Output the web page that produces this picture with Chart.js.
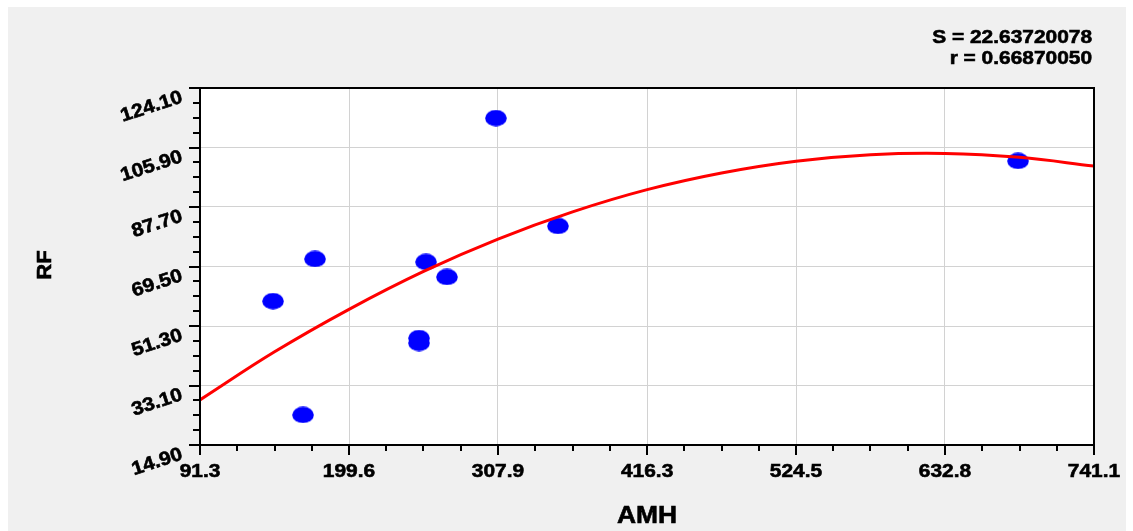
<!DOCTYPE html>
<html lang="fr">
<head>
<meta charset="utf-8">
<title>RF vs AMH</title>
<script src="https://cdn.jsdelivr.net/npm/chart.js@4.4.1/dist/chart.umd.min.js"></script>
<style>
    html, body { margin: 0; padding: 0; background: #ffffff; }
    #wrap { width: 1133px; height: 531px; }
</style>
</head>
<body>
<div id="wrap"><canvas id="rf-chart" width="1133" height="531"></canvas></div>
<script>
// ======== 1. DONNÉES ========
const amhValues = [144.4, 166.2, 174.9, 250.5, 250.5, 255.6, 270.8, 306.4, 351.5, 685.9];
const rfValues = [58.9, 24.1, 71.8, 47.6, 46.1, 70.9, 66.3, 114.9, 81.9, 101.8];

// courbe d'ajustement
const curveX = [91.3, 145.5, 199.6, 253.8, 307.9, 362.1, 416.3, 470.4, 524.5, 578.7, 632.8, 687.0, 741.1];
const curveY = [28.7, 43.4, 56.4, 68.0, 77.9, 86.2, 93.0, 98.1, 101.7, 103.7, 104.1, 102.9, 100.2];

const xTicks = [91.3, 199.6, 307.9, 416.3, 524.5, 632.8, 741.1];
const xTickLabels = ['91.3', '199.6', '307.9', '416.3', '524.5', '632.8', '741.1'];
const yTicks = [14.9, 33.1, 51.3, 69.5, 87.7, 105.9, 124.1];
const yTickLabels = ['14.90', '33.10', '51.30', '69.50', '87.70', '105.90', '124.10'];

const statLines = ['S = 22.63720078', 'r = 0.66870050'];
const xTitle = 'AMH';
const yTitle = 'RF';

// ======== 2. OUTILS DE DESSIN ========
const FONT = '"Liberation Sans", Arial, sans-serif';
const STRETCH = 1.1; // le texte de l'original est un peu étiré

function drawText(ctx, str, x, y, size, align, baseline, angle) {
    ctx.save();
    ctx.translate(x, y);
    if (angle) ctx.rotate(angle);
    ctx.scale(STRETCH, 1);
    ctx.font = 'bold ' + size + 'px ' + FONT;
    ctx.fillStyle = '#000000';
    ctx.strokeStyle = '#000000';
    ctx.lineWidth = 0.6; // un peu plus gras, comme l'original
    ctx.textAlign = align;
    ctx.textBaseline = baseline;
    ctx.fillText(str, 0, 0);
    ctx.strokeText(str, 0, 0);
    ctx.restore();
}

// point en forme d'ellipse (l'image est étirée en largeur)
const dot = document.createElement('canvas');
dot.width = 22;
dot.height = 17;
const dctx = dot.getContext('2d');
dctx.fillStyle = '#0000ff';
dctx.beginPath();
dctx.ellipse(11, 8.5, 10.8, 8.3, 0, 0, Math.PI * 2);
dctx.fill();

// ======== 3. PLUGIN : FOND, CADRE, GRADUATIONS, TEXTES ========
const decorPlugin = {
    id: 'decor',
    beforeDraw(chart) {
        const ctx = chart.ctx;
        const a = chart.chartArea;
        ctx.save();
        ctx.fillStyle = '#ffffff';
        ctx.fillRect(0, 0, chart.width, chart.height);
        ctx.fillStyle = '#f0f0f0';
        ctx.fillRect(8, 7, 1118, chart.height - 7);
        ctx.fillStyle = '#ffffff';
        ctx.fillRect(a.left, a.top, a.right - a.left, a.bottom - a.top);
        ctx.restore();
    },
    afterDraw(chart) {
        const ctx = chart.ctx;
        const a = chart.chartArea;
        const xs = chart.scales.x;
        const ys = chart.scales.y;

        ctx.save();
        ctx.strokeStyle = '#000000';
        ctx.lineWidth = 2;

        // graduations de l'axe X (majeures + 3 mineures)
        ctx.beginPath();
        xTicks.forEach((v, i) => {
            const px = Math.round(xs.getPixelForValue(v));
            ctx.moveTo(px, a.bottom);
            ctx.lineTo(px, a.bottom + 10);
            if (i < xTicks.length - 1) {
                const step = (xTicks[i + 1] - v) / 4;
                for (let k = 1; k < 4; k++) {
                    const mx = Math.round(xs.getPixelForValue(v + step * k));
                    ctx.moveTo(mx, a.bottom);
                    ctx.lineTo(mx, a.bottom + 6);
                }
            }
        });
        // graduations de l'axe Y
        yTicks.forEach((v, i) => {
            const py = Math.round(ys.getPixelForValue(v));
            ctx.moveTo(a.left, py);
            ctx.lineTo(a.left - 11, py);
            if (i < yTicks.length - 1) {
                const step = (yTicks[i + 1] - v) / 4;
                for (let k = 1; k < 4; k++) {
                    const my = Math.round(ys.getPixelForValue(v + step * k));
                    ctx.moveTo(a.left, my);
                    ctx.lineTo(a.left - 7, my);
                }
            }
        });
        ctx.stroke();

        // cadre du graphique
        ctx.strokeRect(a.left, a.top, a.right - a.left, a.bottom - a.top);
        ctx.restore();

        // étiquettes des axes
        xTicks.forEach((v, i) => {
            drawText(ctx, xTickLabels[i], xs.getPixelForValue(v), 477, 19, 'center', 'alphabetic', 0);
        });
        yTicks.forEach((v, i) => {
            drawText(ctx, yTickLabels[i], 182, ys.getPixelForValue(v) + 9, 19, 'right', 'middle', -18 * Math.PI / 180);
        });

        // titres
        drawText(ctx, xTitle, (a.left + a.right) / 2, 523, 24, 'center', 'alphabetic', 0);
        drawText(ctx, yTitle, 45, 265, 20, 'center', 'middle', -Math.PI / 2);

        // statistiques en haut à droite
        drawText(ctx, statLines[0], 1092, 43, 19, 'right', 'alphabetic', 0);
        drawText(ctx, statLines[1], 1092, 64, 19, 'right', 'alphabetic', 0);
    }
};

// ======== 4. GRAPHIQUE ========
const points = amhValues.map((x, i) => ({ x: x, y: rfValues[i] }));
const curve = curveX.map((x, i) => ({ x: x, y: curveY[i] }));

new Chart(document.getElementById('rf-chart'), {
    type: 'scatter',
    data: {
        datasets: [
            {
                label: 'Ajustement',
                type: 'line',
                data: curve,
                borderColor: '#ff0000',
                borderWidth: 3,
                pointRadius: 0,
                tension: 0.4,
                fill: false,
                order: 0
            },
            {
                label: 'RF',
                data: points,
                pointStyle: dot,
                pointRadius: 10,
                pointHoverRadius: 10,
                order: 1
            }
        ]
    },
    options: {
        responsive: false,
        animation: false,
        devicePixelRatio: 1,
        layout: { padding: { left: 0, top: 88, right: 39, bottom: 0 } },
        plugins: {
            legend: { display: false },
            tooltip: { enabled: false }
        },
        scales: {
            x: {
                type: 'linear',
                min: 91.3,
                max: 741.1,
                afterBuildTicks: scale => { scale.ticks = xTicks.map(v => ({ value: v })); },
                afterFit: scale => { scale.height = 86; },
                ticks: { display: false },
                grid: { color: '#d2d2d2', lineWidth: 1, drawTicks: false },
                border: { display: false }
            },
            y: {
                type: 'linear',
                min: 14.9,
                max: 124.1,
                afterBuildTicks: scale => { scale.ticks = yTicks.map(v => ({ value: v })); },
                afterFit: scale => { scale.width = 200; },
                ticks: { display: false },
                grid: { color: '#d2d2d2', lineWidth: 1, drawTicks: false },
                border: { display: false }
            }
        }
    },
    plugins: [decorPlugin]
});
</script>
</body>
</html>
